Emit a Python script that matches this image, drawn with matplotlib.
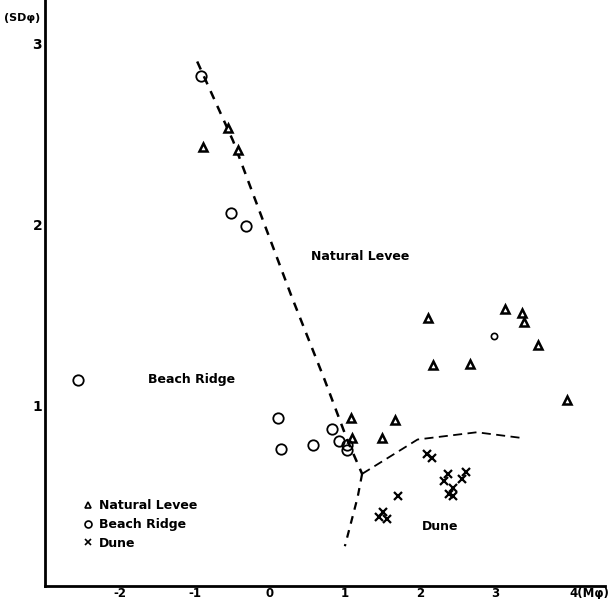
import numpy as np
import matplotlib
matplotlib.use("Agg")
import matplotlib.pyplot as plt
from matplotlib.transforms import ScaledTranslation

plt.rcParams.update({
    'font.family': 'DejaVu Sans',
    'font.weight': 'bold',
})

# mean size (Mphi) vs sorting (SDphi)
levee_x = [-0.89, -0.56, -0.43, 1.08, 1.09, 1.67, 1.49, 2.11, 3.13, 3.36, 3.39, 3.57, 2.17, 2.67, 3.96]
levee_y = [2.43, 2.53, 2.41, 0.93, 0.82, 0.92, 0.82, 1.48, 1.53, 1.51, 1.46, 1.33, 1.22, 1.23, 1.03]

ridge_x = [-0.92, -0.52, -0.32, -2.56, 0.11, 0.15, 0.57, 0.83, 0.92, 1.03, 1.03]
ridge_y = [2.82, 2.06, 1.99, 1.14, 0.93, 0.76, 0.78, 0.87, 0.80, 0.78, 0.75]
# the one small circle among the levee points
small_x = [2.99]
small_y = [1.38]

dune_x = [2.09, 2.16, 2.37, 2.32, 2.61, 2.56, 2.44, 2.39, 2.44, 1.71, 1.51, 1.45, 1.56]
dune_y = [0.73, 0.71, 0.62, 0.58, 0.63, 0.59, 0.54, 0.51, 0.50, 0.50, 0.41, 0.38, 0.37]

# hand-drawn boundaries between the fields
b1_x = [-0.97, -0.49, 0.29, 0.73, 1.03, 1.23]
b1_y = [2.90, 2.46, 1.60, 1.14, 0.81, 0.62]
b2_x = [1.23, 1.17, 1.00]
b2_y = [0.62, 0.49, 0.22]
b3_x = [1.23, 1.97, 2.76, 3.33]
b3_y = [0.62, 0.81, 0.85, 0.82]

xticks = [-2, -1, 0, 1, 2, 3, 4]
xticklabels = ['-2', '-1', '0', '1', '2', '3', '4(M\u03c6)']
yticks = [1, 2, 3]

fig = plt.figure(figsize=(6.11, 5.99), dpi=100)
ax = fig.add_axes([45/611, 13/599, 560/611, 586/599])

ax.plot(b1_x, b1_y, color='black', lw=1.8, dashes=(3.5, 3))
ax.plot(b2_x, b2_y, color='black', lw=1.6, dashes=(3.5, 3))
ax.plot(b3_x, b3_y, color='black', lw=1.3, dashes=(5, 3))

ax.plot(levee_x, levee_y, ls='none', marker='^', ms=5.5, mfc='white', mec='black', mew=1.8,
        label='Natural Levee')
ax.plot(ridge_x, ridge_y, ls='none', marker='o', ms=7.5, mfc='none', mec='black', mew=1.3,
        label='Beach Ridge')
ax.plot(small_x, small_y, ls='none', marker='o', ms=4.5, mfc='none', mec='black', mew=1.2)
ax.plot(dune_x, dune_y, ls='none', marker='x', ms=5.5, color='black', mew=1.6, label='Dune')

ax.text(1.2, 1.82, 'Natural Levee', ha='center', va='center', fontsize=9, fontweight='bold')
ax.text(-1.05, 1.14, 'Beach Ridge', ha='center', va='center', fontsize=9, fontweight='bold')
ax.text(2.27, 0.33, 'Dune', ha='center', va='center', fontsize=9, fontweight='bold')

leg = ax.legend(loc='upper left', bbox_to_anchor=(0.068, 0.148), frameon=False,
                fontsize=9, handlelength=0.8, handletextpad=0.5, labelspacing=0.45,
                borderpad=0, borderaxespad=0)
for h in leg.legend_handles:
    h.set_markersize(5)
    h.set_markeredgewidth(1.2)

ax.set_xlim(-3, 4.47)
ax.set_ylim(0, 3.24)
ax.set_xticks(xticks)
ax.set_xticklabels(xticklabels, fontsize=8.5, fontweight='bold')
last = ax.get_xticklabels()[-1]
last.set_horizontalalignment('left')
last.set_transform(last.get_transform() + ScaledTranslation(-6/100, 0, fig.dpi_scale_trans))
ax.set_yticks(yticks)
ax.set_yticklabels([str(v) for v in yticks], fontsize=10, fontweight='bold')
ax.tick_params(axis='x', length=0, pad=1)
ax.tick_params(axis='y', length=0, pad=2)
ax.spines['top'].set_visible(False)
ax.spines['right'].set_visible(False)
ax.spines['left'].set_linewidth(2)
ax.spines['bottom'].set_linewidth(2)

fig.text(22/611, 1 - 18/599, '(SD\u03c6)', ha='center', va='center', fontsize=8, fontweight='bold')

fig.savefig('out.png', dpi=100)
